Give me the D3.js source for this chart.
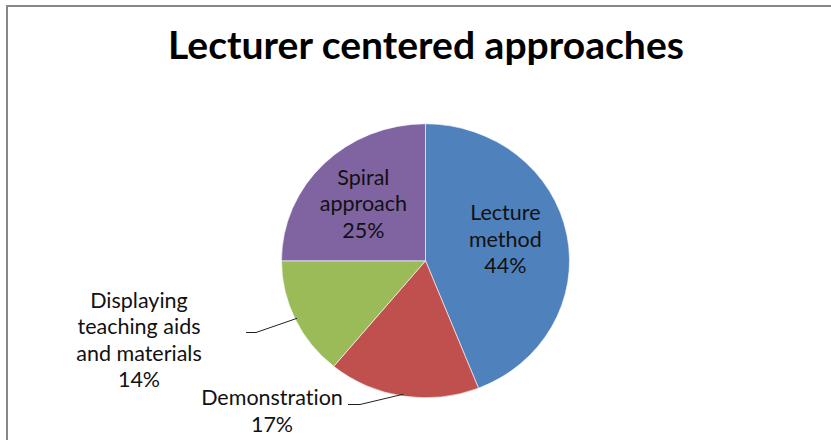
<!DOCTYPE html>
<html>
<head>
<meta charset="utf-8">
<script src="https://cdn.jsdelivr.net/npm/d3@7"></script>
<style>
  html, body { margin: 0; padding: 0; background: #fff; }
  svg { display: block; }
  text { font-variant-ligatures: none; font-feature-settings: "liga" 0, "dlig" 0; }
</style>
</head>
<body>
<div id="chart"></div>
<script>
// data
const categories = ["Lecture method", "Demonstration", "Displaying teaching aids and materials", "Spiral approach"]
const values = [44, 17, 14, 25]
const labelLines = [
  ["Lecture", "method"],
  ["Demonstration"],
  ["Displaying", "teaching aids", "and materials"],
  ["Spiral", "approach"]
]
const colors = ["#4F81BD", "#C0504D", "#9BBB59", "#8064A2"]
const title = "Lecturer centered approaches"

const W = 831, H = 440
const cx = 425.5, cy = 260.8, rx = 144, ry = 137
const FONT = "Lato, 'Open Sans', 'DejaVu Sans', sans-serif"
const labelSize = 21.5, lineH = 26.5

let svg = d3.select("#chart").append("svg")
  .attr("width", W).attr("height", H)

// chart border (only top and left visible in the crop)
svg.append("rect")
  .attr("x", 7).attr("y", 6)
  .attr("width", W + 10).attr("height", H + 10)
  .attr("fill", "#fff")
  .attr("stroke", "#878787").attr("stroke-width", 2)

// title, fitted to the width it takes in the reference
let t = svg.append("text")
  .attr("x", 426).attr("y", 59)
  .attr("text-anchor", "middle")
  .style("font-family", FONT)
  .style("font-weight", "bold")
  .style("font-size", "32px")
  .attr("fill", "#000")
  .text(title)
let tw = t.node().getComputedTextLength()
t.style("font-size", (32 * 516 / tw).toFixed(2) + "px")

// pie (drawn as a circle, squashed a little vertically like the source)
let pie = d3.pie().sort(null).value(d => d)
let arcs = pie(values)
let arc = d3.arc().innerRadius(0).outerRadius(rx)

let g = svg.append("g")
  .attr("transform", `translate(${cx},${cy}) scale(1,${ry / rx})`)

g.selectAll("path.slice")
  .data(arcs)
  .enter().append("path")
  .attr("class", "slice")
  .attr("d", arc)
  .attr("fill", (d, i) => colors[i])
  .attr("stroke", "#fff")
  .attr("stroke-width", 0.6)

// map a point in pie space to page space
function toPage(p) { return [cx + p[0], cy + p[1] * ry / rx] }
function edgePoint(d, r) {
  let a = (d.startAngle + d.endAngle) / 2
  return toPage([Math.sin(a) * r, -Math.cos(a) * r])
}

// label placement: inside for the big slices, outside with leader for small ones
const placement = [
  { inside: true, r: 0.6, dx: -5, dy: -6 },
  { inside: false, anchor: [272, 411], elbow: [360, 404.5], end: [348, 404.5] },
  { inside: false, anchor: [139, 340], elbow: [256, 332.5], end: [246, 332.5] },
  { inside: true, r: 0.6, dx: -1, dy: 1 }
]

let labels = svg.append("g")
  .style("font-family", FONT)
  .style("font-size", labelSize + "px")
  .attr("fill", "#111")

arcs.forEach((d, i) => {
  let p = placement[i]
  let lines = labelLines[i].concat([values[i] + "%"])
  let center
  if (p.inside) {
    let c = edgePoint(d, rx * p.r)
    center = [c[0] + p.dx, c[1] + p.dy]
  } else {
    center = p.anchor
    let e = edgePoint(d, rx - 2)
    svg.append("polyline")
      .attr("points", [e, p.elbow, p.end].map(q => q.join(",")).join(" "))
      .attr("fill", "none")
      .attr("stroke", "#222")
      .attr("stroke-width", 1)
  }
  let y0 = center[1] - (lines.length - 1) * lineH / 2
  let txt = labels.append("text")
    .attr("text-anchor", "middle")
  lines.forEach((s, k) => {
    txt.append("tspan")
      .attr("x", center[0])
      .attr("y", y0 + k * lineH)
      .attr("dy", "0.35em")
      .text(s)
  })
})
</script>
</body>
</html>
